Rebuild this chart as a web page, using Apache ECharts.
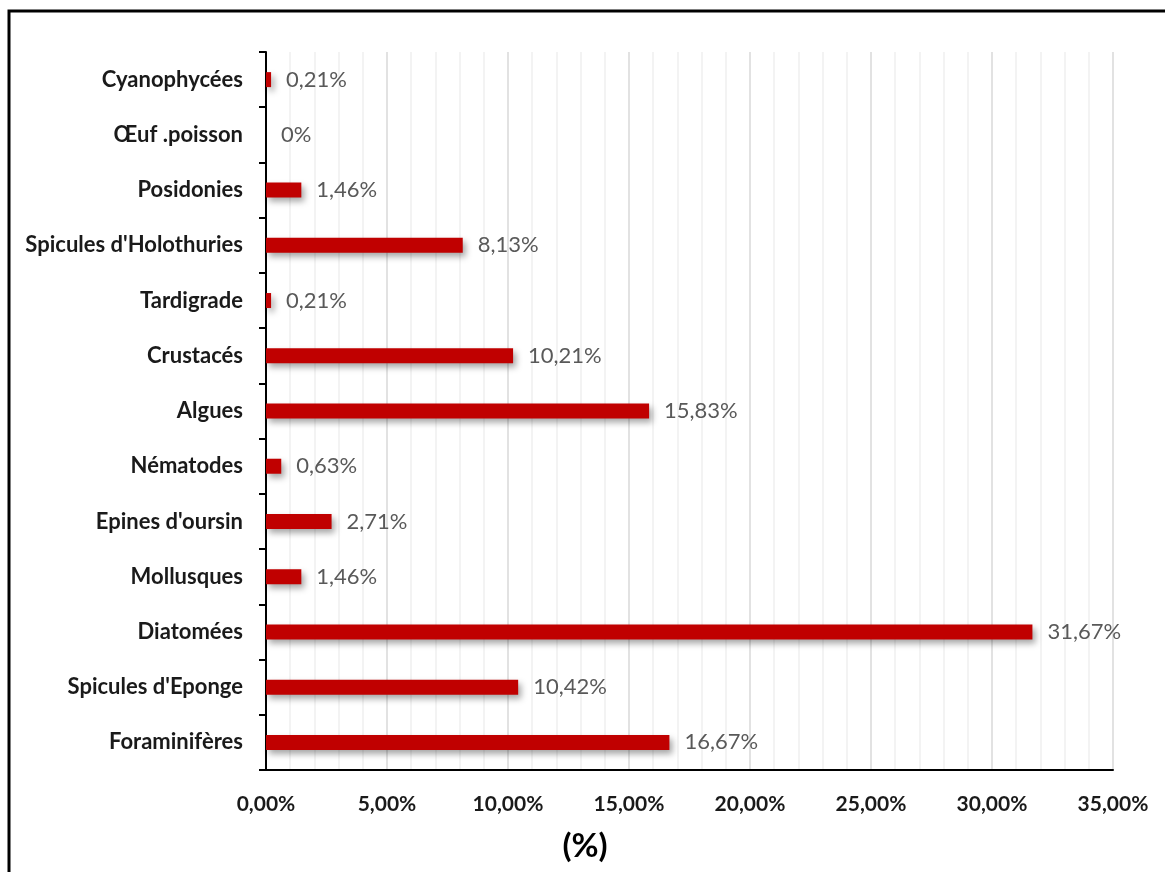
<!DOCTYPE html>
<html>
<head>
<meta charset="utf-8">
<script src="https://cdn.jsdelivr.net/npm/echarts@6/dist/echarts.min.js"></script>
<style>
  html, body { margin: 0; padding: 0; background: #ffffff; }
  #chart { width: 1165px; height: 872px; }
</style>
</head>
<body>
<div id="chart"></div>
<script>
// Groups, listed from top to bottom
const categories = [
  'Cyanophycées', 'Œuf .poisson', 'Posidonies', "Spicules d'Holothuries",
  'Tardigrade', 'Crustacés', 'Algues', 'Nématodes', "Epines d'oursin",
  'Mollusques', 'Diatomées', "Spicules d'Eponge", 'Foraminifères'
];
// Share of each group, in percent
const percentages = [
  0.21, 0, 1.46, 8.13,
  0.21, 10.21, 15.83, 0.63, 2.71,
  1.46, 31.67, 10.42, 16.67
];
const axisMax = 35;
const axisStep = 5;
const axisTitle = '(%)';

const FONT = 'Lato, "Open Sans", sans-serif';

function valueLabel(v) {
  return v === 0 ? '0%' : v.toFixed(2).replace('.', ',') + '%';
}
function tickLabel(v) {
  return v.toFixed(2).replace('.', ',') + '%';
}

const chart = echarts.init(document.getElementById('chart'), null, { renderer: 'canvas' });

chart.setOption({
  backgroundColor: '#ffffff',
  animation: false,
  grid: { left: 266, right: 52, top: 52, bottom: 102, containLabel: false },
  xAxis: {
    type: 'value',
    min: 0,
    max: axisMax,
    interval: axisStep,
    axisLine: { show: true, lineStyle: { color: '#000000', width: 2 } },
    axisTick: { show: false },
    axisLabel: {
      formatter: tickLabel,
      color: '#1a1a1a',
      fontFamily: FONT,
      fontWeight: 'bold',
      fontSize: 21,
      margin: 24
    },
    splitLine: { show: true, lineStyle: { color: '#d9d9d9', width: 1.5 } },
    minorTick: { show: false, splitNumber: 5 },
    minorSplitLine: { show: true, lineStyle: { color: '#efefef', width: 1.5 } }
  },
  yAxis: {
    type: 'category',
    data: categories,
    inverse: true,
    axisLine: { show: true, lineStyle: { color: '#000000', width: 2 } },
    axisTick: { show: true, length: 7, lineStyle: { color: '#000000', width: 2 } },
    axisLabel: {
      color: '#1a1a1a',
      fontFamily: FONT,
      fontWeight: 'bold',
      fontSize: 22,
      margin: 23
    },
    splitLine: { show: false }
  },
  series: [{
    type: 'bar',
    data: percentages,
    barWidth: 15,
    itemStyle: {
      color: '#c00000',
      shadowColor: 'rgba(0,0,0,0.35)',
      shadowBlur: 6,
      shadowOffsetX: 3,
      shadowOffsetY: 4
    },
    label: {
      show: true,
      position: 'right',
      distance: 15,
      formatter: p => valueLabel(p.value),
      color: '#595959',
      fontFamily: FONT,
      fontSize: 22
    }
  }],
  graphic: [
    {
      type: 'polyline',
      shape: { points: [[9, 880], [9, 11], [1175, 11]] },
      style: { stroke: '#000000', lineWidth: 3, fill: null }
    },
    {
      type: 'text',
      x: 585,
      y: 846,
      style: {
        text: axisTitle,
        fill: '#000000',
        font: 'bold 33px ' + FONT,
        align: 'center',
        verticalAlign: 'middle'
      }
    }
  ]
});
</script>
</body>
</html>
